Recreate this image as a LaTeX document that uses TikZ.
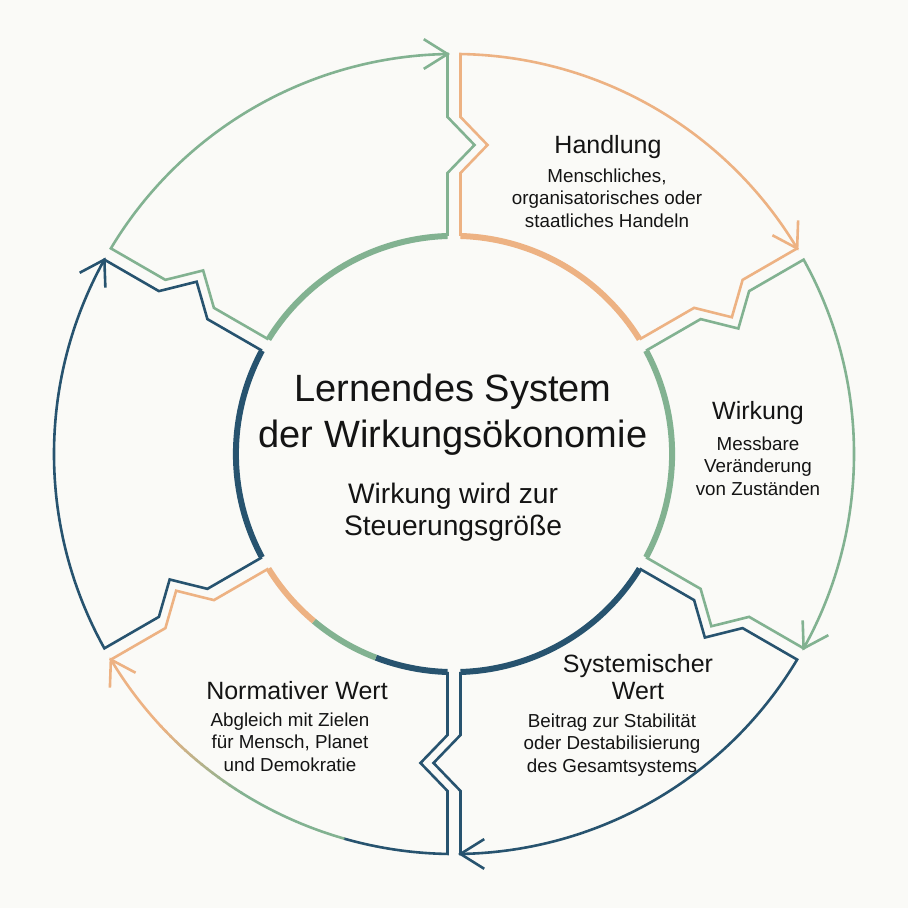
\documentclass[tikz,border=0pt]{standalone}
\usepackage{fontspec}
\setmainfont{Liberation Sans}
\usetikzlibrary{calc}
\definecolor{cOr}{HTML}{EDB283}
\definecolor{cGr}{HTML}{82B291}
\definecolor{cNv}{HTML}{27536F}
\definecolor{cBg}{HTML}{FAFAF7}
\definecolor{cTx}{HTML}{141414}
\begin{document}
\begin{tikzpicture}[x=0.5pt,y=0.5pt,
  thinln/.style={line width=1.3pt, line join=miter},
  thickln/.style={line width=3pt},
  ttl/.style={font=\fontsize{12.5}{13.5}\selectfont, text=cTx, align=center, inner sep=0pt},
  dsc/.style={font=\fontsize{9.4}{11.3}\selectfont, text=cTx, align=center, inner sep=0pt},
  bigttl/.style={font=\fontsize{19}{23}\selectfont, text=cTx, align=center, inner sep=0pt},
  subttl/.style={font=\fontsize{14.1}{16}\selectfont, text=cTx, align=center, inner sep=0pt},
]
\fill[cBg] (0,0) rectangle (908,908);
\useasboundingbox (0,0) rectangle (908,908);
\coordinate (O) at (454,454);
% boundary zig lines
\foreach \nm/\ang in {bA/90, bB/30, bC/-30, bD/-90, bE/-150, bF/150} {
  \foreach \sd/\t in {e/-6.5, s/6.5} {
    \coordinate (\nm\sd1) at ($(O)+(\ang:218)+({\ang-90}:\t)$);
    \coordinate (\nm\sd2) at ($(O)+(\ang:281)+({\ang-90}:\t)$);
    \coordinate (\nm\sd3) at ($(O)+(\ang:309)+({\ang-90}:{\t+27})$);
    \coordinate (\nm\sd4) at ($(O)+(\ang:337)+({\ang-90}:\t)$);
    \coordinate (\nm\sd5) at ($(O)+(\ang:399.95)+({\ang-90}:\t)$);
  }
}
% Segment A (orange)
\draw[thickln, cOr] (bAs1) arc[start angle=88.29, end angle=31.71, radius=218.1];
\draw[thinln, cOr] (bAs1) -- (bAs2) -- (bAs3) -- (bAs4) -- (bAs5)
  arc[start angle=89.07, end angle=30.93, radius=400] -- (bBe4) -- (bBe3) -- (bBe2) -- (bBe1);
\draw[thinln, cOr] ($(bBe5)+(152:28)$) -- (bBe5) -- ($(bBe5)+(88:28)$);
% Segment B (green)
\draw[thickln, cGr] (bBs1) arc[start angle=28.29, end angle=-28.29, radius=218.1];
\draw[thinln, cGr] (bBs1) -- (bBs2) -- (bBs3) -- (bBs4) -- (bBs5)
  arc[start angle=29.07, end angle=-29.07, radius=400] -- (bCe4) -- (bCe3) -- (bCe2) -- (bCe1);
\draw[thinln, cGr] ($(bCe5)+(92:28)$) -- (bCe5) -- ($(bCe5)+(28:28)$);
% Segment C (navy)
\draw[thickln, cNv] (bCs1) arc[start angle=-31.71, end angle=-88.29, radius=218.1];
\draw[thinln, cNv] (bCs1) -- (bCs2) -- (bCs3) -- (bCs4) -- (bCs5)
  arc[start angle=-30.93, end angle=-89.07, radius=400] -- (bDe4) -- (bDe3) -- (bDe2) -- (bDe1);
\draw[thinln, cNv] ($(bDe5)+(32:28)$) -- (bDe5) -- ($(bDe5)+(-32:28)$);
% Segment D (navy -> green -> orange)
\draw[thickln, cNv] (bDs1) arc[start angle=268.29, end angle=249, radius=218.1];
\draw[thickln, cGr] ($(O)+(249:218.1)$) arc[start angle=249, end angle=230, radius=218.1];
\draw[thickln, cOr] ($(O)+(230:218.1)$) arc[start angle=230, end angle=211.71, radius=218.1];
\draw[thinln, cNv] (bDs1) -- (bDs2) -- (bDs3) -- (bDs4) -- (bDs5)
  arc[start angle=269.07, end angle=254, radius=400];
\draw[thinln, cGr] ($(O)+(254.1:400)$) arc[start angle=254.1, end angle=237.8, radius=400];
\foreach \i in {0,...,14} {
  \pgfmathsetmacro\aa{238-\i}
  \pgfmathsetmacro\bb{237-\i-0.2}
  \pgfmathsetmacro\pc{100-(\i+0.5)*100/15}
  \draw[thinln, color=cGr!\pc!cOr] ($(O)+(\aa:400)$) arc[start angle=\aa, end angle=\bb, radius=400];
}
\draw[thinln, cOr] ($(O)+(223:400)$) arc[start angle=223, end angle=210.93, radius=400]
  -- (bEe4) -- (bEe3) -- (bEe2) -- (bEe1);
\draw[thinln, cOr] ($(bEe5)+(-28:28)$) -- (bEe5) -- ($(bEe5)+(-92:28)$);
% Segment E (navy)
\draw[thickln, cNv] (bEs1) arc[start angle=208.29, end angle=151.71, radius=218.1];
\draw[thinln, cNv] (bEs1) -- (bEs2) -- (bEs3) -- (bEs4) -- (bEs5)
  arc[start angle=209.07, end angle=150.93, radius=400] -- (bFe4) -- (bFe3) -- (bFe2) -- (bFe1);
\draw[thinln, cNv] ($(bFe5)+(272:28)$) -- (bFe5) -- ($(bFe5)+(208:28)$);
% Segment F (green)
\draw[thickln, cGr] (bFs1) arc[start angle=148.29, end angle=91.71, radius=218.1];
\draw[thinln, cGr] (bFs1) -- (bFs2) -- (bFs3) -- (bFs4) -- (bFs5)
  arc[start angle=149.07, end angle=90.93, radius=400] -- (bAe4) -- (bAe3) -- (bAe2) -- (bAe1);
\draw[thinln, cGr] ($(bAe5)+(212:28)$) -- (bAe5) -- ($(bAe5)+(148:28)$);
% Texts
\node[ttl] (tA) at (608,761) {Handlung};
\node[dsc] (dA) at (607,710) {Menschliches,\\organisatorisches oder\\staatliches Handeln};
\node[ttl] (tB) at (758,495) {Wirkung};
\node[dsc] (dB) at (758,442) {Messbare\\Veränderung\\von Zuständen};
\node[ttl] (tC) at (638,231) {Systemischer\\Wert};
\node[dsc] (dC) at (612,163) {Beitrag zur Stabilität\\oder Destabilisierung\\des Gesamtsystems};
\node[ttl] (tD) at (297,217) {Normativer Wert};
\node[dsc] (dD) at (290,166) {Abgleich mit Zielen\\für Mensch, Planet\\und Demokratie};
\node[bigttl] (tM) at (453,493) {Lernendes System\\der Wirkungsökonomie};
\node[subttl] (sM) at (453,396) {Wirkung wird zur\\Steuerungsgröße};
\end{tikzpicture}
\end{document}
